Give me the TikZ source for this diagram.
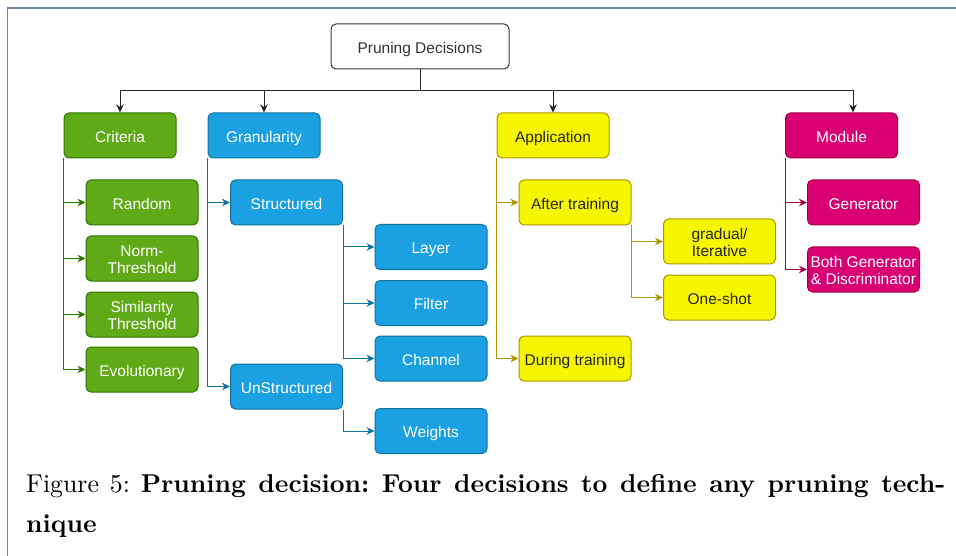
\documentclass[tikz,border=0pt]{standalone}
\usepackage{fontspec}
\newfontfamily\drawiofont{Liberation Sans}
\newfontfamily\capfont{lmroman10-regular.otf}[BoldFont=lmroman10-bold.otf]
\usetikzlibrary{arrows.meta}
\definecolor{grnfill}{HTML}{60A917}
\definecolor{grnline}{HTML}{2D7600}
\definecolor{blufill}{HTML}{1BA1E2}
\definecolor{bluline}{HTML}{10739E}
\definecolor{yelfill}{HTML}{F6F600}
\definecolor{yelline}{HTML}{B09500}
\definecolor{magfill}{HTML}{D80073}
\definecolor{magline}{HTML}{A50040}
\definecolor{framecol}{HTML}{6D86A0}
\tikzset{
	box/.style={rectangle, rounded corners=5pt, line width=1pt, minimum width=112pt, minimum height=45pt, inner sep=0pt, align=center, text height=16pt, text depth=2.9pt, font=\drawiofont\fontsize{15.5}{17}\selectfont},
	twoline/.style={text height=33.5pt},
	rootbox/.style={box, draw=black!80, text=black!80, minimum width=178pt},
	critbox/.style={box, fill=grnfill, draw=grnline, text=white},
	granbox/.style={box, fill=blufill, draw=bluline, text=white},
	appbox/.style={box, fill=yelfill, draw=yelline, text=black!85},
	modbox/.style={box, fill=magfill, draw=magline, text=white},
	link/.style={line width=1pt, -{Stealth[length=8pt,width=7.5pt,inset=2.5pt]}},
}

\begin{document}
\begin{tikzpicture}[x=1pt, y=-1pt]
		%%%%% START %%%%%
		\useasboundingbox (0, 0) rectangle (956, 556);
		\draw[line width=1.2pt, color=framecol] (7.5, 556) -- (7.5, 8) -- (956, 8);
		
		\node[rootbox] (root) at (420, 46.5) {Pruning Decisions};
		\coordinate (bus) at (420, 91);
		
		\node[critbox] (crit) at (120, 135.5) {Criteria};
		\node[granbox] (gran) at (264, 135.5) {Granularity};
		\node[appbox] (app) at (553, 135.5) {Application};
		\node[modbox] (mod) at (841.5, 135.5) {Module};
		
		\draw[link, color=black!85] (root.south) -- (bus) -| (crit.north);
		\draw[link, color=black!85] (root.south) -- (bus) -| (gran.north);
		\draw[link, color=black!85] (root.south) -- (bus) -| (app.north);
		\draw[link, color=black!85] (root.south) -- (bus) -| ([xshift=11.5pt]mod.north);
		
		\node[critbox] (rand) at (142, 202.5) {Random};
		\node[critbox, twoline] (norm) at (142, 258.5) {Norm-\\Threshold};
		\node[critbox, twoline] (sim) at (142, 314.5) {Similarity\\Threshold};
		\node[critbox] (evo) at (142, 369.5) {Evolutionary};
		\foreach \n in {rand, norm, sim, evo}
			\draw[link, color=grnline] (crit.south west) |- (\n.west);
		
		\node[granbox] (str) at (286.5, 202.5) {Structured};
		\node[granbox] (unstr) at (286.5, 386.5) {UnStructured};
		\draw[link, color=bluline] (gran.south west) |- (str.west);
		\draw[link, color=bluline] (gran.south west) |- (unstr.west);
		
		\node[granbox] (layer) at (431, 247) {Layer};
		\node[granbox] (filt) at (431, 303) {Filter};
		\node[granbox] (chan) at (431, 358.5) {Channel};
		\node[granbox] (wts) at (431, 431) {Weights};
		\foreach \n in {layer, filt, chan}
			\draw[link, color=bluline] (str.south east) |- (\n.west);
		\draw[link, color=bluline] (unstr.south east) |- (wts.west);
		
		\node[appbox] (after) at (575, 202.5) {After training};
		\node[appbox] (during) at (575, 358.5) {During training};
		\draw[link, color=yelline] (app.south west) |- (after.west);
		\draw[link, color=yelline] (app.south west) |- (during.west);
		
		\node[appbox, twoline] (grad) at (719.5, 241.5) {gradual/\\Iterative};
		\node[appbox] (one) at (719.5, 297.5) {One-shot};
		\draw[link, color=yelline] (after.south east) |- (grad.west);
		\draw[link, color=yelline] (after.south east) |- (one.west);
		
		\node[modbox] (gen) at (863.5, 202.5) {Generator};
		\node[modbox, twoline] (both) at (863.5, 269.5) {Both Generator\\\& Discriminator};
		\draw[link, color=magline] (mod.south west) |- (gen.west);
		\draw[link, color=magline] (mod.south west) |- (both.west);
		
		\node[anchor=north west, inner sep=0pt, text width=919pt, align=justify, font=\capfont\frenchspacing\fontsize{25.8}{40}\selectfont] (cap) at (26, 474) {Figure 5: \textbf{Pruning decision: Four decisions to define any pruning tech-\linebreak nique}};
		%%%%% END %%%%%
\end{tikzpicture}
\end{document}
